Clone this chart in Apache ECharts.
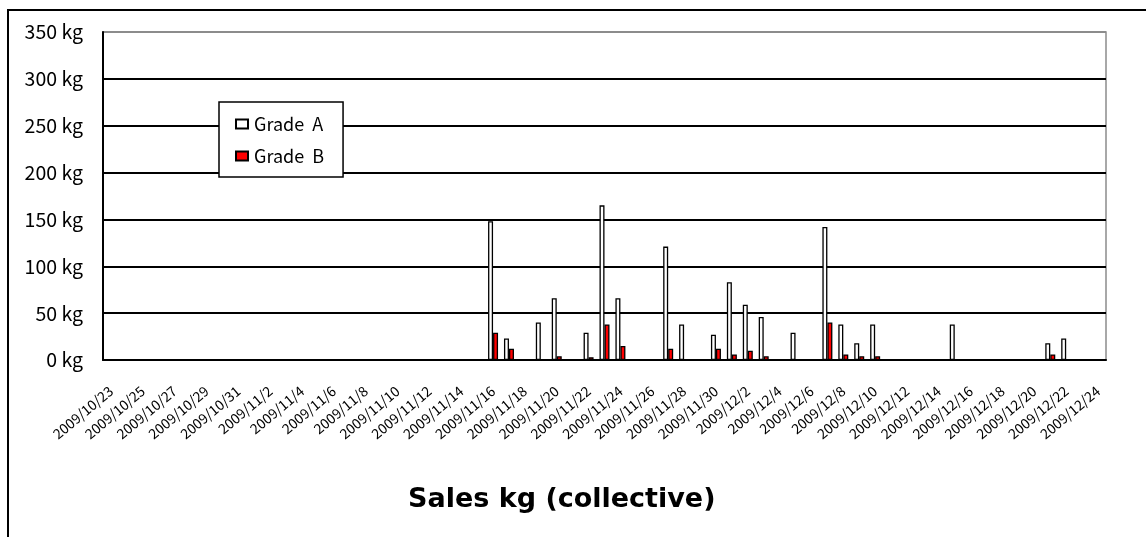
<!DOCTYPE html>
<html>
<head>
<meta charset="utf-8">
<script src="https://cdn.jsdelivr.net/npm/echarts@6/dist/echarts.min.js"></script>
<style>
  html, body { margin: 0; padding: 0; background: #fff; }
  #chart { width: 1146px; height: 537px; }
</style>
</head>
<body>
<div id="chart"></div>
<script>
// Daily sales, 2009/10/23 – 2009/12/24
const startDate = [2009, 10, 23];
const dayCount = 63;

// Grade A (kg) per day
const gradeA = [
  0, 0, 0, 0, 0, 0, 0, 0, 0, 0,
  0, 0, 0, 0, 0, 0, 0, 0, 0, 0,
  0, 0, 0, 0, 148, 23, 0, 40, 66, 0,
  29, 165, 66, 0, 0, 121, 38, 0, 27, 83,
  59, 46, 0, 29, 0, 142, 38, 18, 38, 0,
  0, 0, 0, 38, 0, 0, 0, 0, 0, 18,
  23, 0, 0
];

// Grade B (kg) per day
const gradeB = [
  0, 0, 0, 0, 0, 0, 0, 0, 0, 0,
  0, 0, 0, 0, 0, 0, 0, 0, 0, 0,
  0, 0, 0, 0, 29, 12, 0, 0, 4, 0,
  3, 38, 15, 0, 0, 12, 0, 0, 12, 6,
  10, 4, 0, 0, 0, 40, 6, 4, 4, 0,
  0, 0, 0, 1, 0, 0, 0, 0, 0, 6,
  1, 0, 0
];

const seriesNames = ['Grade A', 'Grade B'];
const yTicks = [0, 50, 100, 150, 200, 250, 300, 350];
const titleText = 'Sales kg (collective)';

// Build the day labels (yyyy/m/d)
const categories = [];
for (let i = 0; i < dayCount; i++) {
  const d = new Date(startDate[0], startDate[1] - 1, startDate[2] + i);
  categories.push(d.getFullYear() + '/' + (d.getMonth() + 1) + '/' + d.getDate());
}

const FONT = '"Noto Sans CJK JP", "Noto Sans", sans-serif';
const chart = echarts.init(document.getElementById('chart'));

chart.setOption({
  backgroundColor: '#fff',
  animation: false,
  graphic: [
    {
      type: 'rect',
      shape: { x: 8, y: 10, width: 1300, height: 700 },
      style: { fill: 'none', stroke: '#000', lineWidth: 2 },
      z: 0
    },
    {
      type: 'text',
      left: 408,
      top: 486,
      style: {
        text: titleText,
        font: 'bold 27px "DejaVu Sans", sans-serif',
        fill: '#000'
      }
    }
  ],
  legend: {
    orient: 'vertical',
    left: 219,
    top: 102,
    padding: [13, 19, 12, 16],
    itemGap: 14,
    itemWidth: 12,
    itemHeight: 9,
    borderColor: '#000',
    borderWidth: 1.5,
    backgroundColor: '#fff',
    icon: 'rect',
    formatter: name => name.replace(' ', '  '),
    textStyle: { fontFamily: FONT, fontSize: 18, color: '#000', padding: [0, 0, 0, 1] },
    data: seriesNames
  },
  grid: {
    left: 103,
    right: 40,
    top: 32,
    bottom: 177,
    show: true,
    borderColor: '#8c8c8c',
    borderWidth: 1.5,
    backgroundColor: 'transparent'
  },
  xAxis: {
    type: 'category',
    data: categories,
    boundaryGap: true,
    axisLine: { lineStyle: { color: '#000', width: 2 } },
    axisTick: { inside: true, interval: 1, length: 4, lineStyle: { color: '#000', width: 1.5 } },
    axisLabel: {
      interval: 1,
      rotate: 40,
      margin: 29,
      fontFamily: FONT,
      fontSize: 14,
      color: '#000'
    },
    splitLine: { show: false }
  },
  yAxis: {
    type: 'value',
    min: yTicks[0],
    max: yTicks[yTicks.length - 1],
    interval: 50,
    axisLine: { show: true, lineStyle: { color: '#000', width: 2 } },
    axisTick: { show: false },
    axisLabel: {
      formatter: '{value} kg',
      fontFamily: FONT,
      fontSize: 19.5,
      color: '#000',
      margin: 20
    },
    splitLine: {
      lineStyle: {
        color: ['#000', '#000', '#000', '#000', '#000', '#000', '#000', '#8c8c8c'],
        width: 2
      }
    }
  },
  series: [
    {
      name: seriesNames[0],
      type: 'bar',
      data: gradeA,
      barWidth: 5,
      barGap: '0%',
      itemStyle: { color: '#fff', borderColor: '#000', borderWidth: 1.3 }
    },
    {
      name: seriesNames[1],
      type: 'bar',
      data: gradeB,
      barWidth: 5,
      itemStyle: { color: '#ff0000', borderColor: '#000', borderWidth: 1.3 }
    }
  ]
});
</script>
</body>
</html>
